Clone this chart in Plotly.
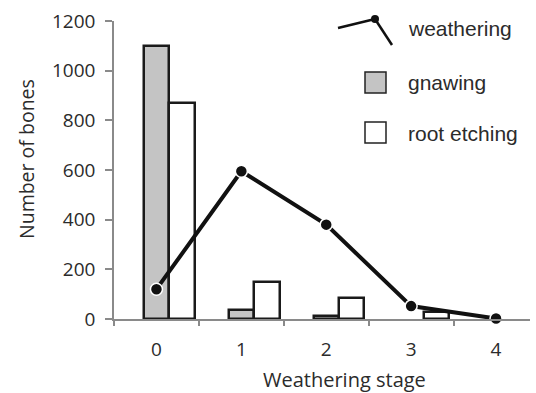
import plotly.graph_objects as go

stages = ["0", "1", "2", "3", "4"]
weathering = [120, 595, 380, 52, 2]
gnawing = [1100, 36, 12, None, None]
root_etching = [870, 150, 86, 27, None]
y_ticks = [0, 200, 400, 600, 800, 1000, 1200]

W, H = 536, 393
L, R, T, B = 114, 6, 21, 74
pw, ph = W - L - R, H - T - B

def px(x):
    return (x - L) / pw

def py(y):
    return (H - B - y) / ph

AX = "#8a8a8a"
TXT = "#2b2b2b"

fig = go.Figure()
fig.add_trace(go.Bar(x=stages, y=gnawing, width=0.3, offset=-0.15,
                     marker=dict(color="#c4c4c4", line=dict(color="#1a1a1a", width=2.5)),
                     showlegend=False))
fig.add_trace(go.Bar(x=stages, y=root_etching, width=0.3, offset=0.15,
                     marker=dict(color="white", line=dict(color="#1a1a1a", width=2.5)),
                     showlegend=False))
fig.add_trace(go.Scatter(x=stages, y=weathering, mode="lines+markers",
                         line=dict(color="#111111", width=4),
                         marker=dict(color="#111111", size=12, line=dict(color="white", width=1.5)),
                         cliponaxis=False, showlegend=False))

# legend drawn by hand
fig.add_shape(type="line", xref="paper", yref="paper", x0=px(338), y0=py(28), x1=px(375), y1=py(19),
              line=dict(color="#111111", width=2.5))
fig.add_shape(type="line", xref="paper", yref="paper", x0=px(375), y0=py(19), x1=px(392), y1=py(45),
              line=dict(color="#111111", width=2.5))
fig.add_shape(type="circle", xref="paper", yref="paper", x0=px(371), y0=py(15), x1=px(379), y1=py(23),
              fillcolor="#111111", line=dict(color="#111111", width=0))
fig.add_shape(type="rect", xref="paper", yref="paper", x0=px(365), y0=py(72), x1=px(386), y1=py(93),
              fillcolor="#c4c4c4", line=dict(color="#222222", width=1.5))
fig.add_shape(type="rect", xref="paper", yref="paper", x0=px(365), y0=py(122), x1=px(386), y1=py(143),
              fillcolor="white", line=dict(color="#222222", width=1.5))
for label, yc in [("weathering", 29), ("gnawing", 82), ("root etching", 133)]:
    fig.add_annotation(text=label, xref="paper", yref="paper", x=px(406), y=py(yc),
                       xanchor="left", yanchor="middle", showarrow=False,
                       font=dict(family="Liberation Sans, Arial", size=21, color=TXT))

fig.add_annotation(text="Weathering stage", xref="paper", yref="paper", x=px(344), y=py(379),
                   xanchor="center", yanchor="middle", showarrow=False,
                   font=dict(family="Open Sans", size=20, color=TXT))
fig.add_annotation(text="Number of bones", xref="paper", yref="paper", x=px(26), y=py(159),
                   xanchor="center", yanchor="middle", showarrow=False, textangle=-90,
                   font=dict(family="Open Sans", size=19.5, color=TXT))

fig.update_layout(
    width=W, height=H, margin=dict(l=L, r=R, t=T, b=B),
    plot_bgcolor="white", paper_bgcolor="white", barmode="overlay", bargap=0,
    font=dict(family="Open Sans", size=19, color=TXT),
)
fig.update_xaxes(type="category", range=[-0.5, 4.4], tickson="boundaries",
                 ticks="outside", ticklen=5, tickcolor=AX, tickwidth=1.5,
                 showline=True, linecolor=AX, linewidth=1.5, showgrid=False, zeroline=False,
                 tickfont=dict(family="Open Sans", size=19, color=TXT), ticklabelstandoff=12)
fig.update_yaxes(range=[0, 1200], tickvals=y_ticks, ticks="outside", ticklen=7, tickcolor=AX, tickwidth=1.5,
                 showline=True, linecolor=AX, linewidth=1.5, showgrid=False, zeroline=False,
                 tickfont=dict(family="Open Sans", size=19, color=TXT), ticklabelstandoff=6)

fig.write_html("out.html")
